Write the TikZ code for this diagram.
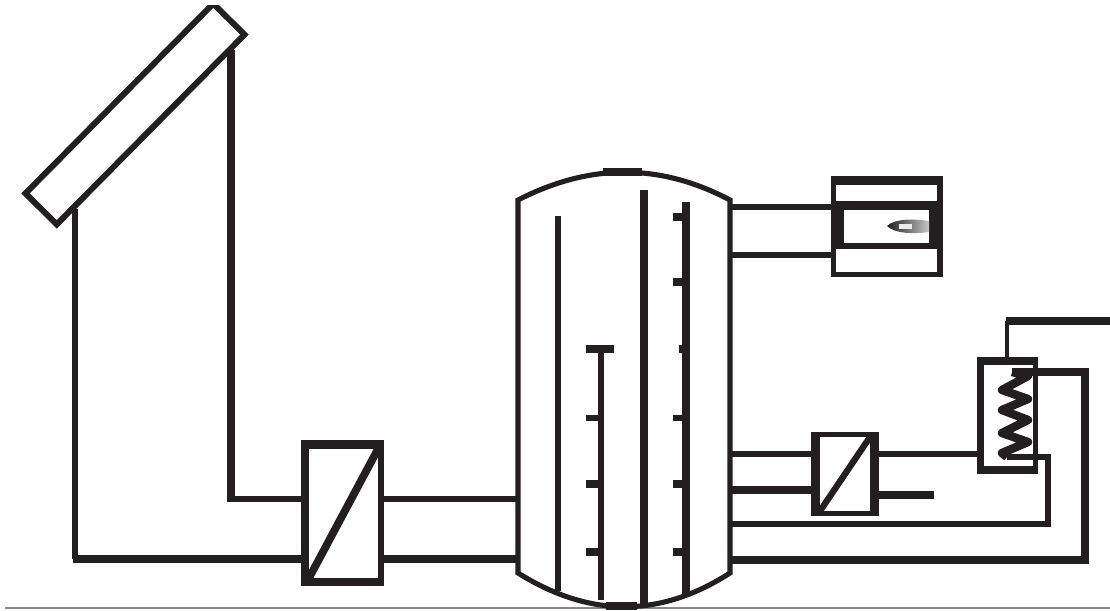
\documentclass[tikz,border=0pt]{standalone}
\usepackage{tikz}
\usetikzlibrary{positioning}
\definecolor{PipeInk}{HTML}{231F20}
\definecolor{RuleGrey}{HTML}{8A8A8A}
\tikzset{
  pipe/.style={PipeInk,line width=2.9pt},
  pipeheavy/.style={PipeInk,line width=4.4pt},
  boxouter/.style={rectangle,fill=PipeInk,inner sep=0pt,outer sep=0pt},
  boxinner/.style={rectangle,fill=white,inner sep=0pt,outer sep=0pt}
}
\begin{document}
\begin{tikzpicture}[x=0.02cm,y=-0.02cm]
    \useasboundingbox (0,0) rectangle (1110,610);
    \draw[RuleGrey,line width=0.9pt] (5,608) -- (1110,608);

    \node[draw=PipeInk,line width=3.4pt,fill=white,rectangle,rotate=45.3,minimum width=5.34cm,minimum height=0.88cm,inner sep=0pt] (collector) at (135,114) {};
    \fill[white] (150,0) rectangle (280,4.5);
    \node[boxouter,minimum width=1.66cm,minimum height=2.92cm] (hxsolar) at (342.5,513) {};
    \node[boxinner,minimum width=1.38cm,minimum height=2.58cm] (hxsolarin) at (343.5,513.5) {};
    \node[boxouter,minimum width=1.36cm,minimum height=1.68cm] (hxload) at (845,474) {};
    \node[boxinner,minimum width=1.0cm,minimum height=1.48cm] (hxloadin) at (845,474) {};
    \node[boxouter,minimum width=2.24cm,minimum height=2.02cm] (boiler) at (887,226.5) {};
    \node[boxinner,minimum width=2.02cm,minimum height=0.32cm] (boilertop) at (886.5,193) {};
    \node[boxinner,minimum width=1.70cm,minimum height=0.66cm] (burner) at (886.5,226.5) {};
    \node[boxinner,minimum width=2.02cm,minimum height=0.46cm] (boilerbase) at (886.5,260.5) {};
    \node[boxouter,minimum width=1.22cm,minimum height=2.34cm] (store) at (1007.5,415.5) {};
    \node[boxinner,minimum width=0.98cm,minimum height=2.02cm] (storein) at (1008.5,415.5) {};

    \coordinate (colA) at (75,209);
    \coordinate (colB) at (231,50);
    \coordinate (cornerA) at (75,559);
    \coordinate (cornerB) at (231,499);
    \coordinate (tankA) at (518,499);
    \coordinate (tankB) at (518,559);
    \coordinate (tankC) at (730,207);
    \coordinate (tankD) at (730,255);
    \coordinate (tankE) at (730,454);
    \coordinate (tankF) at (730,490);
    \coordinate (tankG) at (730,524);
    \coordinate (tankH) at (730,560);
    \coordinate (coilA) at (1012,372);
    \coordinate (coilB) at (1007,457);
    \coordinate (feed) at (1110,321);
    \coordinate (stub) at (934,495);

    \draw[pipe] (colA) -- (cornerA);
    \draw[pipeheavy] (72.5,559) -- (hxsolar.west |- tankB);
    \draw[pipeheavy] (colB) -- (cornerB);
    \draw[pipe] (227,499) -- (hxsolar.west |- tankA);
    \draw[pipe] (hxsolar.east |- tankA) -- (tankA);
    \draw[pipeheavy] (hxsolar.east |- tankB) -- (tankB);
    \draw[pipe] (tankC) -- (boiler.west |- tankC);
    \draw[pipe] (tankD) -- (boiler.west |- tankD);
    \draw[pipe] (tankE) -- (hxload.west |- tankE);
    \draw[pipeheavy] (tankF) -- (hxload.west |- tankF);
    \draw[pipe] (hxload.east |- tankE) -- (store.west |- tankE);
    \draw[pipeheavy] (hxload.east |- stub) -- (stub);
    \draw[pipe,line width=3.4pt] (tankG) -| (1048,457) -- (coilB);
    \draw[pipeheavy,line width=3.8pt] (1048,527) -- (1048,457);
    \draw[pipeheavy] (tankH) -| (1085,372) -- (coilA);
    \draw[pipe,line width=2.6pt] (1007,358) -- (1007,321);
    \draw[pipeheavy] (1005.7,321) -- (feed);
    \draw[pipeheavy] (hxsolarin.north east) -- (hxsolarin.south west);
    \draw[pipeheavy,line width=3.6pt] (hxloadin.north east) -- (hxloadin.south west);
    \draw[pipeheavy,line width=4.8pt,line join=round] (coilA) -- (1028,376) -- (1002,390) -- (1028,399) -- (1002,410) -- (1028,420) -- (1002,433) -- (1028,442) -- (1002,453) -- (coilB);

    \shade[left color=PipeInk,right color=white!55!gray] (887,226) .. controls (895,218) and (915,219) .. (929,221) -- (929,232) .. controls (915,234) and (895,234) .. (887,226);
    \fill[white!85!gray] (899,223.5) rectangle (912,228.5);

    \draw[pipe,fill=white] (518,573) -- (518,200) .. controls (590,163) and (660,163) .. (730,200) -- (730,573) .. controls (660,618) and (590,618) .. (518,573) -- cycle;
    \draw[pipeheavy] (603,172) -- (642,172);
    \draw[pipeheavy] (606,606) -- (637,606);

    \draw[pipe] (558,216) -- (558,591);
    \draw[pipeheavy] (644,190) -- (644,604);
    \draw[pipeheavy,line width=4pt] (686,202) -- (686,596);
    \draw[pipe] (601,349) -- (601,600);
    \draw[pipeheavy] (586,349) -- (614,349);
    \draw[pipe] (586,418) -- (601,418);
    \draw[pipeheavy] (586,484) -- (601,484);
    \draw[pipeheavy] (586,552) -- (601,552);
    \draw[pipeheavy] (673,217) -- (686,217);
    \draw[pipeheavy] (673,282) -- (686,282);
    \draw[pipeheavy] (679,349) -- (686,349);
    \draw[pipe] (673,418) -- (686,418);
    \draw[pipeheavy] (673,484) -- (686,484);
    \draw[pipeheavy] (673,552) -- (686,552);
\end{tikzpicture}
\end{document}
